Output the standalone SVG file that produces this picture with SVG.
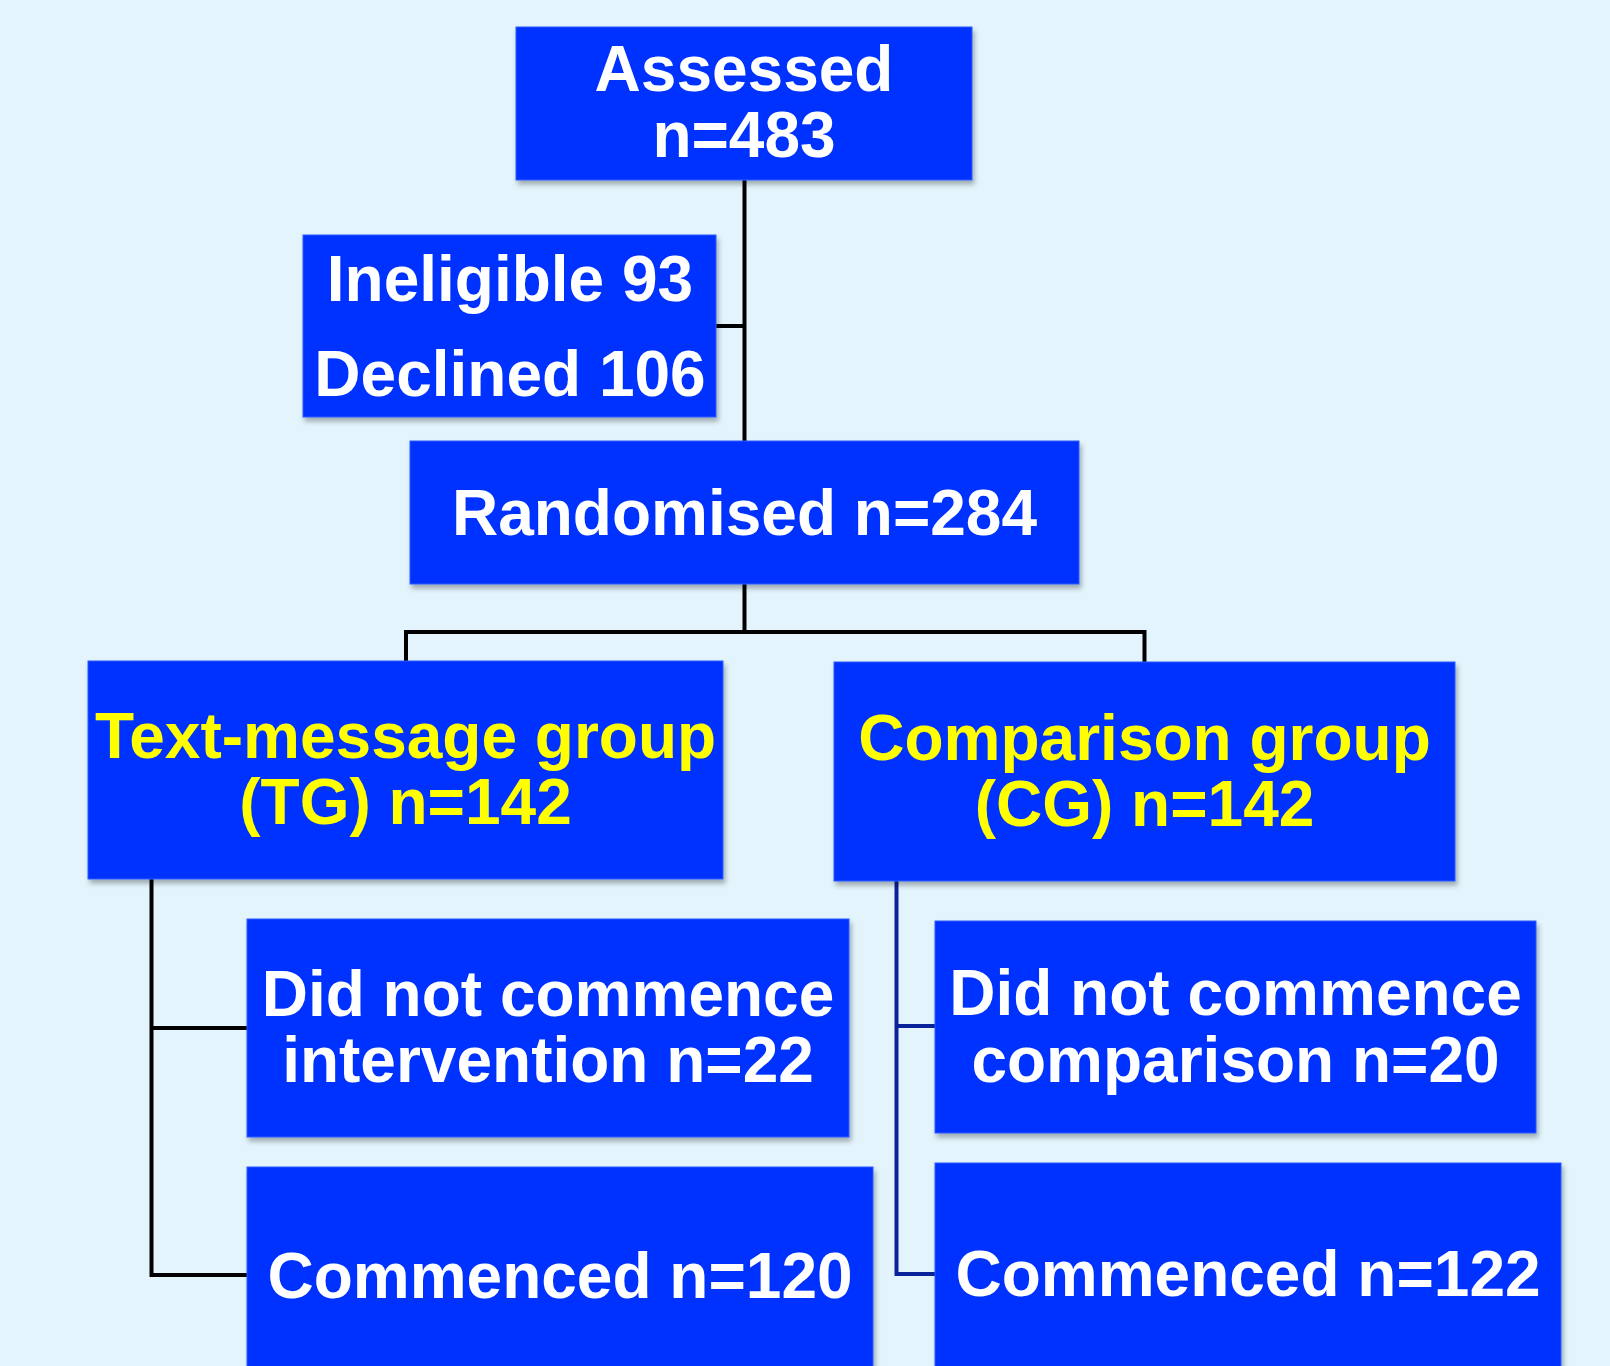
<svg xmlns="http://www.w3.org/2000/svg" width="1610" height="1366" viewBox="0 0 1610 1366">
<defs>
<filter id="sh" x="-5%" y="-5%" width="112%" height="115%">
<feDropShadow dx="2" dy="4" stdDeviation="2.5" flood-color="#000" flood-opacity="0.3"/>
</filter>
<style>
.box{fill:#0433FF;stroke:#2E5BFF;stroke-width:1;filter:url(#sh)}
.t{font-family:"Liberation Sans",Arial,sans-serif;font-weight:bold;font-size:64px;fill:#FFFFFF;text-anchor:middle}
.y{fill:#FFFF00}
.ln{fill:none;stroke:#000;stroke-width:4}
.ln2{fill:none;stroke:#0A229A;stroke-width:4}
</style>
</defs>
<rect width="1610" height="1366" fill="#E3F4FC"/>
<g id="connectors">
<path class="ln" d="M744.5 180 V441"/>
<path class="ln" d="M716 326 H744.5"/>
<path class="ln" d="M744.5 584 V632 M406 661 V632 H1144.5 V662"/>
<path class="ln" d="M151.5 879 V1275 H247 M151.5 1028 H247"/>
<path class="ln2" d="M896.5 881 V1274 H935 M896.5 1026 H935"/>
</g>
<g id="assessed">
<rect class="box" x="516" y="27" width="456" height="153"/>
<text class="t" x="744" y="91">Assessed</text>
<text class="t" x="744" y="157">n=483</text>
</g>
<g id="excluded">
<rect class="box" x="303" y="235" width="413" height="182"/>
<text class="t" x="510" y="301">Ineligible 93</text>
<text class="t" x="510" y="396">Declined 106</text>
</g>
<g id="randomised">
<rect class="box" x="410" y="441" width="669" height="143"/>
<text class="t" x="744.5" y="535">Randomised n=284</text>
</g>
<g id="tg">
<rect class="box" x="88" y="661" width="635" height="218"/>
<text class="t y" x="405.5" y="758">Text-message group</text>
<text class="t y" x="405.5" y="824">(TG) n=142</text>
</g>
<g id="cg">
<rect class="box" x="834" y="662" width="621" height="219"/>
<text class="t y" x="1144.5" y="760">Comparison group</text>
<text class="t y" x="1144.5" y="826">(CG) n=142</text>
</g>
<g id="tg-dnc">
<rect class="box" x="247" y="919" width="602" height="218"/>
<text class="t" x="548" y="1016">Did not commence</text>
<text class="t" x="548" y="1082">intervention n=22</text>
</g>
<g id="tg-commenced">
<rect class="box" x="247" y="1167" width="626" height="210"/>
<text class="t" x="560" y="1298">Commenced n=120</text>
</g>
<g id="cg-dnc">
<rect class="box" x="935" y="921" width="601" height="212"/>
<text class="t" x="1235.5" y="1015">Did not commence</text>
<text class="t" x="1235.5" y="1082">comparison n=20</text>
</g>
<g id="cg-commenced">
<rect class="box" x="935" y="1163" width="626" height="214"/>
<text class="t" x="1248" y="1296">Commenced n=122</text>
</g>
</svg>
